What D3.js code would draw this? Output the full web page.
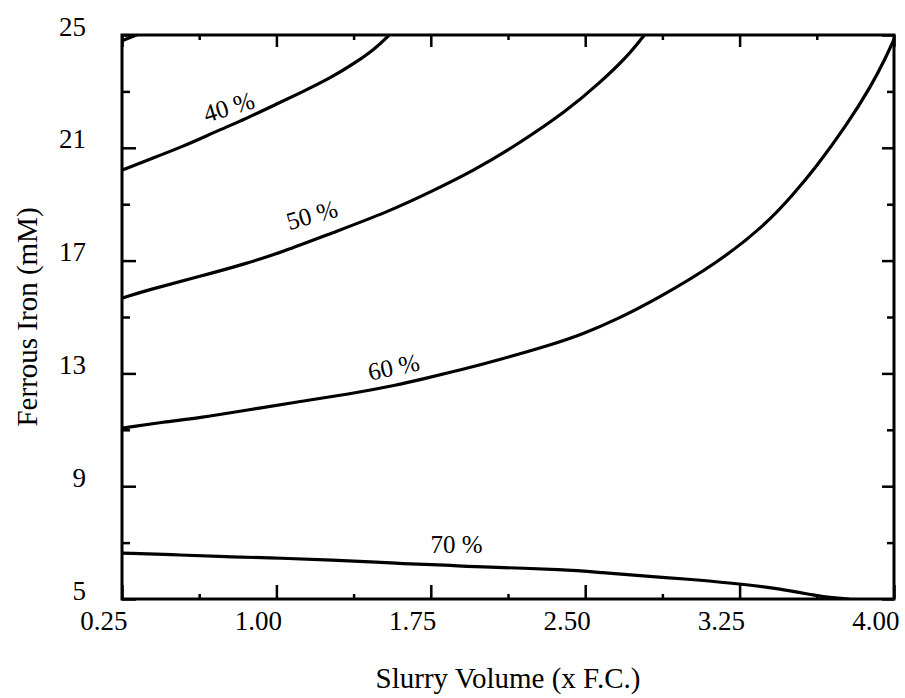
<!DOCTYPE html>
<html>
<head>
<meta charset="utf-8">
<script src="https://cdn.jsdelivr.net/npm/d3@7"></script>
<style>
	body { margin: 0; background: #fff; }
	svg { display: block; }
	.axis path { display: none; }
	.axis line { stroke: #000; stroke-width: 2.5; }
	text { font-family: 'Liberation Serif', 'Times New Roman', serif; fill: #000; }
</style>
</head>
<body>
<div id="chart"></div>
<script>

/***********************************************************************/
//Data
/***********************************************************************/
const xTickValues = [0.25, 1.00, 1.75, 2.50, 3.25, 4.00]
const xMinorValues = [0.625, 1.375, 2.125, 2.875, 3.625]
const yTickValues = [5, 9, 13, 17, 21, 25]
const yMinorValues = [7, 11, 15, 19, 23]

const curve30 = [[0.25, 24.8], [0.32, 25.0]]
const curve40 = [[0.25, 20.21], [0.376, 20.57], [0.541, 21.03], [0.701, 21.56], [0.861, 22.06], [0.992, 22.52],
	[1.123, 22.97], [1.269, 23.5], [1.38, 24.0], [1.477, 24.5], [1.54, 24.93], [1.56, 25.1]]
const curve50 = [[0.25, 15.67], [0.376, 15.96], [0.619, 16.42], [0.861, 16.91], [1.026, 17.3], [1.27, 17.98],
	[1.54, 18.72], [1.754, 19.45], [1.96, 20.2], [2.157, 21.05], [2.41, 22.3], [2.57, 23.3], [2.70, 24.2],
	[2.78, 24.93], [2.80, 25.1]]
const curve60 = [[0.25, 11.06], [0.459, 11.28], [0.619, 11.42], [0.861, 11.7], [1.10, 11.99], [1.35, 12.26],
	[1.59, 12.59], [1.71, 12.8], [1.91, 13.15], [2.08, 13.48], [2.33, 14.0], [2.49, 14.4], [2.65, 14.9],
	[2.85, 15.65], [3.14, 16.9], [3.38, 18.3], [3.505, 19.3], [3.62, 20.3], [3.77, 21.8], [3.89, 23.2],
	[3.96, 24.2], [4.0, 24.85]]
const curve70 = [[0.25, 6.63], [0.54, 6.56], [0.78, 6.49], [1.026, 6.45], [1.27, 6.38], [1.51, 6.3], [1.59, 6.26],
	[1.83, 6.2], [2.0, 6.13], [2.41, 6.05], [2.57, 5.94], [2.81, 5.8], [2.97, 5.72], [3.21, 5.57], [3.46, 5.35],
	[3.62, 5.12], [3.70, 5.04], [3.78, 5.0]]

const curveLabels = ['', '40 %', '50 %', '60 %', '70 %']
const labelAt = [null, [0.769, 22.45], [1.172, 18.62], [1.57, 13.23], [1.875, 6.95]]
const labelAngle = [0, -17, -16, -12, 0]

const series = [curve30, curve40, curve50, curve60, curve70]

/***********************************************************************/
//Plot Area
/***********************************************************************/
const width = 905
const height = 698
const margin = { left : 122, right : 11, top : 35, bottom : 99 }

const plotAreaWidth = width - margin.left - margin.right
const plotAreaHeight = height - margin.top - margin.bottom

const svg = d3.select('#chart')
	.append('svg')
	.attr('width', width)
	.attr('height', height)

const g = svg.append('g')
	.attr('transform', 'translate(' + margin.left + ',' + margin.top + ')')

/***********************************************************************/
//Scale
/***********************************************************************/
const xScale = d3.scaleLinear()
	.domain([0.25, 4.00])
	.range([0, plotAreaWidth])

const yScale = d3.scaleLinear()
	.domain([5, 25])
	.range([plotAreaHeight, 0])

/***********************************************************************/
//Axes
/***********************************************************************/
const xAxisG = g.append('g').classed('axis', true)
	.attr('transform', 'translate(0,' + plotAreaHeight + ')')
	.call(d3.axisBottom(xScale)
		.tickValues(xTickValues)
		.tickFormat(d3.format('.2f'))
		.tickSize(-14)
		.tickSizeOuter(0))

xAxisG.selectAll('text')
	.attr('y', 31)
	.attr('dy', null)
	.attr('x', 5)
	.attr('text-anchor', 'end')
	.style('font-size', '27px')

g.append('g').classed('axis', true)
	.attr('transform', 'translate(0,' + plotAreaHeight + ')')
	.call(d3.axisBottom(xScale).tickValues(xMinorValues).tickFormat('').tickSize(-5).tickSizeOuter(0))

g.append('g').classed('axis', true)
	.call(d3.axisTop(xScale).tickValues(xTickValues).tickFormat('').tickSize(-12).tickSizeOuter(0))

g.append('g').classed('axis', true)
	.call(d3.axisTop(xScale).tickValues(xMinorValues).tickFormat('').tickSize(-5).tickSizeOuter(0))

const yAxisG = g.append('g').classed('axis', true)
	.call(d3.axisLeft(yScale)
		.tickValues(yTickValues)
		.tickFormat(d3.format('d'))
		.tickSize(-14)
		.tickSizeOuter(0))

yAxisG.selectAll('text')
	.attr('x', -36)
	.attr('dy', null)
	.attr('text-anchor', 'end')
	.style('font-size', '27px')

g.append('g').classed('axis', true)
	.call(d3.axisLeft(yScale).tickValues(yMinorValues).tickFormat('').tickSize(-8).tickSizeOuter(0))

g.append('g').classed('axis', true)
	.attr('transform', 'translate(' + plotAreaWidth + ',0)')
	.call(d3.axisRight(yScale).tickValues(yTickValues).tickFormat('').tickSize(-12).tickSizeOuter(0))

g.append('g').classed('axis', true)
	.attr('transform', 'translate(' + plotAreaWidth + ',0)')
	.call(d3.axisRight(yScale).tickValues(yMinorValues).tickFormat('').tickSize(-7).tickSizeOuter(0))

// frame
g.append('rect')
	.attr('width', plotAreaWidth)
	.attr('height', plotAreaHeight)
	.attr('fill', 'none')
	.attr('stroke', '#000')
	.attr('stroke-width', 3)

/***********************************************************************/
// Plotting
/***********************************************************************/
g.append('clipPath')
	.attr('id', 'plot-clip')
	.append('rect')
	.attr('width', plotAreaWidth)
	.attr('height', plotAreaHeight)

const line = d3.line()
	.curve(d3.curveBasis)
	.x(d => xScale(d[0]))
	.y(d => yScale(d[1]))

const gLines = g.append('g').attr('clip-path', 'url(#plot-clip)')

series.forEach((data, i) => {
	gLines.append('path')
		.datum(data)
		.attr('fill', 'none')
		.attr('stroke', '#000')
		.attr('stroke-width', 3.2)
		.attr('stroke-linejoin', 'round')
		.attr('stroke-linecap', 'round')
		.attr('d', line)

	if (!labelAt[i]) return

	const lx = xScale(labelAt[i][0])
	const ly = yScale(labelAt[i][1])

	g.append('text')
		.attr('transform', `translate(${lx},${ly}) rotate(${labelAngle[i]})`)
		.attr('text-anchor', 'middle')
		.attr('dominant-baseline', 'central')
		.style('font-size', '25px')
		.text(curveLabels[i])
})

/***********************************************************************/
//Titles
/***********************************************************************/
svg.append('text')
	.attr('x', margin.left + plotAreaWidth / 2)
	.attr('y', 688)
	.attr('text-anchor', 'middle')
	.style('font-size', '29px')
	.text('Slurry Volume (x F.C.)')

svg.append('text')
	.attr('transform', `translate(37,${margin.top + plotAreaHeight / 2}) rotate(-90)`)
	.attr('text-anchor', 'middle')
	.style('font-size', '29px')
	.text('Ferrous Iron (mM)')

</script>
</body>
</html>
